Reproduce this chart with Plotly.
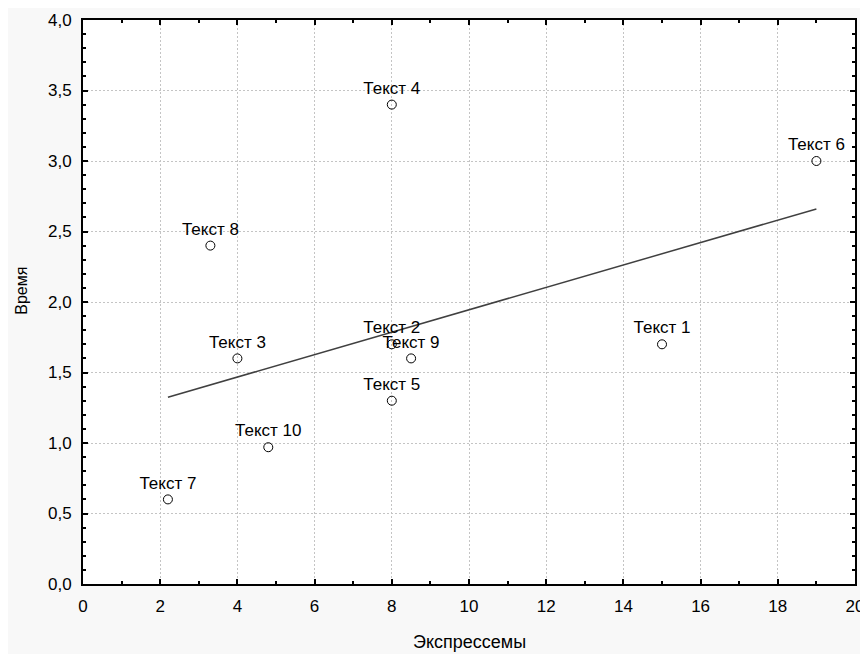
import plotly.graph_objects as go

labels = ["Текст 1", "Текст 2", "Текст 3", "Текст 4", "Текст 5",
          "Текст 6", "Текст 7", "Текст 8", "Текст 9", "Текст 10"]
expr = [15, 8, 4, 8, 8, 19, 2.2, 3.3, 8.5, 4.8]
time_vals = [1.7, 1.7, 1.6, 3.4, 1.3, 3.0, 0.6, 2.4, 1.6, 0.97]

trend_x = [2.2, 19]
trend_y = [1.325, 2.66]

x_ticks = [0, 2, 4, 6, 8, 10, 12, 14, 16, 18, 20]
y_ticks = [0, 0.5, 1.0, 1.5, 2.0, 2.5, 3.0, 3.5, 4.0]

FONT = "Liberation Sans, Arial"

fig = go.Figure()
fig.add_trace(go.Scatter(
    x=trend_x, y=trend_y, mode="lines",
    line=dict(color="#404040", width=1.5), hoverinfo="skip", showlegend=False))
fig.add_trace(go.Scatter(
    x=expr, y=time_vals, mode="markers+text", text=labels,
    textposition="top center",
    textfont=dict(family=FONT, size=17, color="black"),
    marker=dict(symbol="circle-open", size=9, color="black", line=dict(width=1)),
    cliponaxis=False, showlegend=False))

axis_common = dict(
    showline=True, linecolor="black", linewidth=2, mirror="allticks",
    ticks="inside", ticklen=5, tickwidth=1.5, tickcolor="black",
    showgrid=True, gridcolor="#c4c4c4", griddash="2px,2px", gridwidth=1,
    zeroline=False, automargin=False, ticklabelstandoff=6,
    ticklabeloverflow="allow",
    tickfont=dict(family=FONT, size=17, color="black"),
)

fig.update_xaxes(
    range=[0, 20], tickvals=x_ticks, ticktext=[str(v) for v in x_ticks],
    minor=dict(dtick=1, ticks="inside", ticklen=3, tickcolor="black", showgrid=False),
    **axis_common)
fig.update_yaxes(
    range=[0, 4], tickvals=y_ticks, ticktext=[f"{v:.1f}".replace(".", ",") for v in y_ticks],
    minor=dict(dtick=0.1, ticks="inside", ticklen=3, tickcolor="black", showgrid=False),
    **axis_common)

fig.add_annotation(text="Экспрессемы", xref="paper", yref="paper",
                   x=0.5, y=-0.103, xanchor="center", yanchor="middle", showarrow=False,
                   font=dict(family=FONT, size=18, color="black"))
fig.add_annotation(text="Время", xref="paper", yref="paper",
                   x=-0.079, y=0.52, xanchor="center", yanchor="middle", showarrow=False,
                   textangle=-90, font=dict(family=FONT, size=16, color="black"))

fig.update_layout(
    width=860, height=646,
    margin=dict(l=75, r=13, t=12, b=70),
    paper_bgcolor="#f8f8f8", plot_bgcolor="white",
    font=dict(family=FONT, size=14, color="black"),
)

fig.write_html("out.html")
